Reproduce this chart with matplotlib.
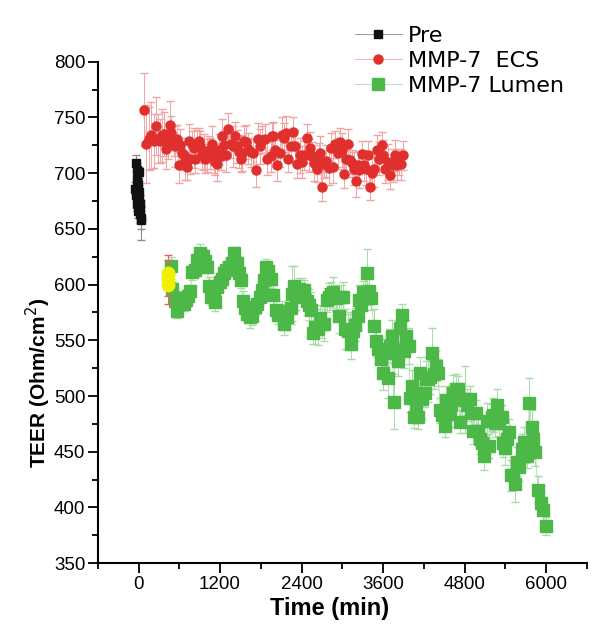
import matplotlib
matplotlib.use('Agg')
import matplotlib.pyplot as plt
from matplotlib.ticker import MultipleLocator

# Pre-treatment readings (time in min, TEER in Ohm/cm2)
pre_t = [-40, -20, 0, -30, -10, -45, -25, 10, -35, -15, 5, -30, 15, -5, 20, 25, 30, 35]
pre_v = [709, 703, 701, 695, 690, 686, 688, 683, 680, 676, 678, 672, 669, 666, 672, 663, 660, 658]
pre_err = [7, 6, 5, 6, 5, 6, 5, 6, 5, 6, 5, 6, 7, 6, 5, 8, 10, 18]

# MMP-7 added to ECS
ecs_t = [74, 108, 148, 187, 222, 256, 286, 320, 345, 370,
         404, 434, 458, 483, 517, 542, 566, 591, 616, 640,
         665, 690, 714, 739, 764, 788, 813, 838, 862, 887,
         911, 936, 961, 985, 1010, 1035, 1059, 1084, 1108, 1133,
         1158, 1182, 1207, 1232, 1256, 1281, 1320, 1354, 1389, 1419,
         1453, 1478, 1503, 1527, 1552, 1586, 1616, 1651, 1685, 1725,
         1759, 1788, 1823, 1862, 1896, 1946, 1970,
         1980, 2010, 2044, 2080, 2118, 2143, 2177, 2207, 2242, 2276,
         2306, 2340, 2375, 2405, 2439, 2473, 2503, 2523, 2552, 2587,
         2621, 2651, 2670, 2700, 2724, 2759, 2798, 2833, 2857, 2897,
         2931, 2966, 2995, 3030, 3055, 3079, 3114, 3144, 3177, 3202,
         3227, 3252, 3291, 3325, 3350, 3375, 3410, 3439, 3474, 3508,
         3547, 3581, 3606, 3635, 3670, 3705, 3744, 3769, 3803, 3833,
         3867, 3901]
ecs_v = [757, 726, 731, 734, 729, 742, 731, 729, 734, 735,
         722, 729, 743, 736, 729, 724, 731, 707, 725, 718,
         716, 710, 706, 729, 713, 726, 723, 713, 724, 729,
         724, 716, 719, 713, 716, 721, 718, 726, 713, 710,
         708, 721, 715, 733, 725, 716, 740, 726, 724, 733,
         724, 719, 713, 718, 729, 728, 722, 719, 718, 703,
         731, 724, 730, 731, 713, 715, 733,
         733, 721, 707, 718, 734, 732, 736, 713, 724, 737,
         724, 708, 716, 710, 716, 732, 716, 723, 715, 709,
         704, 713, 718, 688, 708, 711, 705, 723, 706, 726,
         718, 728, 721, 699, 713, 726, 712, 709, 704, 693,
         707, 703, 717, 707, 704, 716, 688, 700, 704, 721,
         713, 725, 716, 704, 710, 698, 707, 716, 707, 710,
         708, 716]
ecs_err = [33, 35, 28, 30, 24, 26, 22, 20, 24, 20,
           18, 16, 22, 15, 14, 18, 12, 16, 15, 14,
           13, 16, 12, 15, 14, 12, 18, 13, 15, 12,
           14, 12, 16, 13, 15, 12, 14, 16, 13, 12,
           15, 14, 12, 16, 13, 15, 14, 12, 18, 13,
           15, 14, 12, 16, 13, 15, 14, 13, 12, 15,
           14, 16, 12, 13, 15, 14, 12,
           13, 15, 14, 12, 16, 13, 15, 12, 14, 13,
           15, 12, 16, 14, 13, 12, 15, 14, 13, 16,
           12, 14, 15, 13, 12, 14, 16, 13, 15, 12,
           14, 13, 15, 12, 16, 14, 13, 12, 15, 14,
           13, 16, 12, 14, 15, 13, 12, 14, 16, 13,
           15, 12, 14, 13, 16, 12, 15, 14, 13, 12,
           14, 13]

# MMP-7 added to lumen
lumen_t = [483, 493, 532, 566, 591, 631, 665, 699, 729, 764,
           788, 828, 862, 887, 911, 946, 975, 1010, 1035, 1074,
           1108, 1133, 1158, 1192, 1222, 1256, 1291, 1330, 1370, 1404,
           1429, 1453, 1478, 1503, 1537, 1567, 1601, 1636, 1675, 1715,
           1749, 1784, 1814, 1848, 1873, 1912, 1946, 1980, 2020, 2059,
           2109, 2143, 2192, 2242, 2266, 2291, 2325, 2365, 2404, 2439,
           2473, 2503, 2537, 2562, 2601, 2636, 2670, 2700, 2734, 2769,
           2798, 2833, 2868, 2907, 2946, 2981, 3015, 3045, 3079, 3114,
           3128, 3163, 3193, 3227, 3252, 3276, 3301, 3340, 3360, 3389,
           3424, 3463, 3498, 3532, 3572, 3606, 3636, 3670, 3695, 3734,
           3759, 3784, 3818, 3843, 3882, 3902, 3941, 3980, 4000, 4030,
           4050, 4089, 4113, 4149, 4178, 4212, 4237, 4262, 4296, 4326,
           4345, 4375, 4409, 4444, 4474, 4508, 4533, 4557, 4582, 4606,
           4631, 4670, 4705, 4740, 4769, 4803, 4838, 4878, 4902, 4927,
           4966, 5000, 5025, 5050, 5084, 5124, 5163, 5197, 5222, 5247,
           5281, 5311, 5345, 5370, 5394, 5429, 5458, 5483, 5518, 5542,
           5577, 5606, 5641, 5676, 5705, 5725, 5754, 5788, 5813, 5843,
           5880, 5920, 5960, 6000]
lumen_v = [617, 596, 585, 576, 583, 588, 583, 586, 590, 594,
           611, 613, 622, 622, 628, 626, 621, 616, 599, 589,
           595, 584, 598, 602, 605, 610, 613, 616, 619, 628,
           619, 619, 610, 604, 585, 579, 574, 571, 572, 580,
           583, 589, 595, 604, 616, 612, 605, 591, 577, 573,
           576, 565, 571, 579, 592, 599, 589, 596, 595, 595,
           585, 582, 577, 557, 562, 560, 570, 565, 565, 586,
           589, 592, 593, 588, 572, 589, 589, 560, 558, 558,
           547, 558, 564, 572, 586, 582, 593, 593, 610, 594,
           588, 563, 549, 542, 533, 521, 539, 516, 545, 554,
           495, 542, 531, 561, 573, 540, 554, 545, 498, 509,
           481, 493, 481, 521, 497, 503, 515, 515, 517, 539,
           520, 527, 521, 487, 483, 473, 496, 484, 486, 492,
           503, 506, 506, 477, 496, 497, 492, 497, 485, 469,
           485, 469, 461, 458, 446, 478, 455, 481, 483, 476,
           492, 476, 481, 458, 453, 461, 468, 429, 429, 421,
           441, 436, 452, 459, 452, 446, 494, 472, 461, 450,
           416, 404, 398, 383]
lumen_err = [8, 6, 7, 6, 5, 6, 7, 6, 5, 6,
             7, 6, 6, 7, 8, 6, 7, 6, 8, 7,
             9, 8, 7, 8, 7, 6, 7, 8, 7, 6,
             7, 6, 8, 7, 9, 8, 7, 10, 8, 7,
             9, 8, 7, 8, 7, 6, 8, 9, 10, 8,
             9, 10, 12, 14, 25, 18, 12, 10, 11, 9,
             12, 14, 16, 10, 15, 14, 12, 13, 16, 11,
             12, 10, 14, 12, 15, 11, 13, 18, 16, 17,
             14, 12, 15, 13, 14, 12, 10, 16, 22, 12,
             11, 15, 14, 12, 13, 16, 12, 18, 15, 14,
             25, 16, 13, 12, 10, 15, 14, 16, 12, 14,
             10, 12, 11, 14, 18, 13, 16, 20, 15, 22,
             14, 13, 12, 11, 15, 10, 13, 12, 14, 11,
             16, 14, 12, 10, 13, 30, 14, 12, 13, 12,
             11, 10, 13, 14, 12, 16, 11, 12, 15, 13,
             14, 12, 11, 13, 15, 12, 11, 14, 12, 16,
             13, 12, 14, 13, 12, 11, 22, 15, 14, 13,
             12, 10, 11, 8]

# yellow highlighted reading at the start of lumen treatment
yellow_t = [430, 430, 430]
yellow_v = [600, 605, 610]
yellow_err = [10, 22, 12]

fig = plt.figure(figsize=(6, 6.37), dpi=100)
ax = fig.add_axes([0.163, 0.116, 0.815, 0.787])

ax.errorbar(pre_t, pre_v, yerr=pre_err, fmt='none', ecolor='#8c8c8c', elinewidth=0.8, capsize=3)
ax.errorbar(ecs_t, ecs_v, yerr=ecs_err, fmt='none', ecolor='#f2a3a3', elinewidth=0.7, capsize=3)
ax.errorbar(lumen_t, lumen_v, yerr=lumen_err, fmt='none', ecolor='#a8dba8', elinewidth=0.7, capsize=3)

pre_line, = ax.plot(pre_t, pre_v, '-', color='#8c8c8c', lw=0.6, marker='s', ms=6,
                    mfc='#111111', mec='#111111', label='Pre')
ecs_line, = ax.plot(ecs_t, ecs_v, '-', color='#f4a6a6', lw=0.6, marker='o', ms=6.5,
                    mfc='#e0302e', mec='#e0302e', label='MMP-7  ECS')
lum_line, = ax.plot(lumen_t, lumen_v, '-', color='#a8dba8', lw=0.6, marker='s', ms=8,
                    mfc='#4cb847', mec='#4cb847', label='MMP-7 Lumen')

ax.errorbar(yellow_t, yellow_v, yerr=yellow_err, fmt='none', ecolor='#e86060', elinewidth=0.7, capsize=3)
ax.plot(yellow_t, yellow_v, 'o', ms=9, mfc='#f2ef00', mec='#f2ef00', zorder=5)

ax.set_xlim(-600, 6600)
ax.set_ylim(350, 800)
ax.set_xticks([0, 1200, 2400, 3600, 4800, 6000])
ax.xaxis.set_minor_locator(MultipleLocator(600))
ax.yaxis.set_major_locator(MultipleLocator(50))
ax.yaxis.set_minor_locator(MultipleLocator(25))

for side in ['top', 'right']:
    ax.spines[side].set_visible(False)
for side in ['left', 'bottom']:
    ax.spines[side].set_linewidth(1.5)

ax.tick_params(which='major', direction='out', length=7, width=1.3, pad=2)
ax.tick_params(which='minor', direction='out', length=4, width=1.3)
for lab in ax.get_xticklabels() + ax.get_yticklabels():
    lab.set_fontfamily(['Liberation Sans', 'DejaVu Sans'])
    lab.set_fontsize(13.5)

label_font = ['Liberation Sans', 'DejaVu Sans']
fig.text(330 / 600, 1 - 608 / 637, 'Time (min)', ha='center', va='center',
         fontsize=17, fontweight='bold', family=label_font)
fig.text(38 / 600, 1 - 383 / 637, 'TEER (Ohm/cm$^2$)', ha='center', va='center',
         rotation=90, fontsize=15, fontweight='bold', family=label_font)

ax.legend(handles=[pre_line, ecs_line, lum_line], loc='upper left',
          bbox_to_anchor=(355 / 600, 1 - 26 / 637), bbox_transform=fig.transFigure,
          frameon=False, fontsize=16, handlelength=2.1, handletextpad=0.3,
          labelspacing=0.22, borderpad=0, borderaxespad=0)

fig.savefig('out.png', dpi=100)
